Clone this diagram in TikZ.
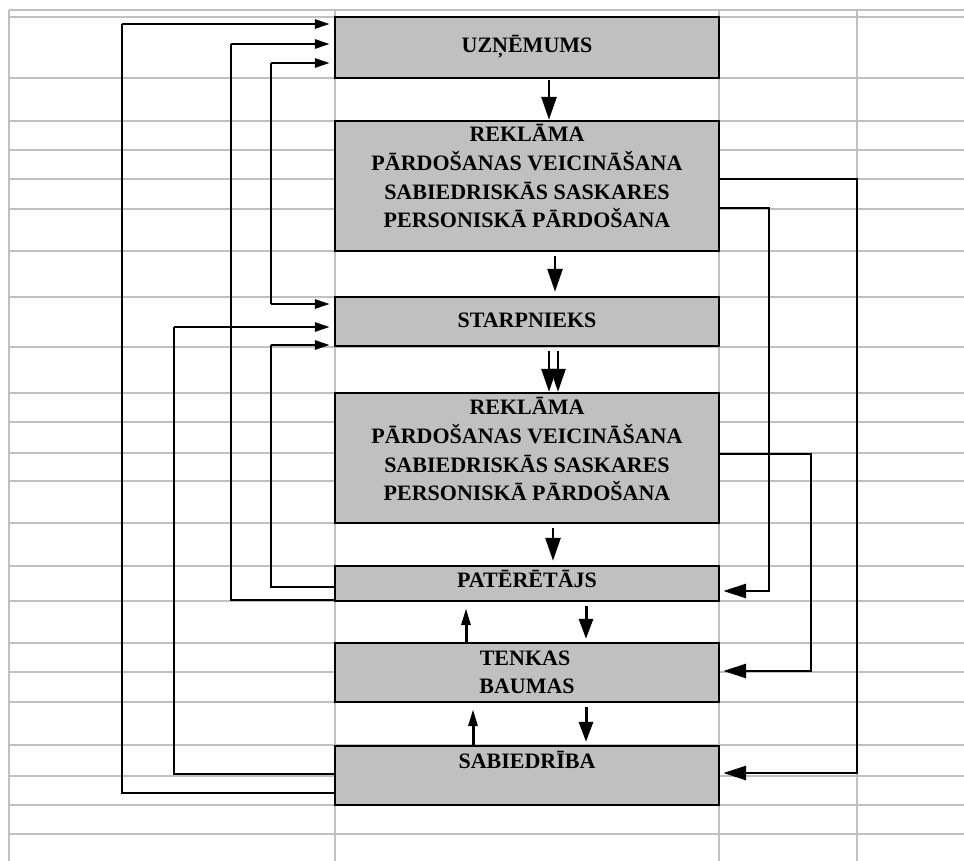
\documentclass[tikz,border=0pt]{standalone}
\usepackage{fontspec}
\setmainfont{Liberation Serif}
\usetikzlibrary{arrows.meta}
\definecolor{boxgray}{RGB}{192,192,192}
\definecolor{gridgray}{RGB}{192,192,192}
\begin{document}
\begin{tikzpicture}[x=1pt,y=-1pt,
  gridline/.style={draw=gridgray,line width=1.8pt},
  box/.style={draw=black,fill=boxgray,line width=2.4pt,inner sep=0pt,minimum width=384pt},
  lbl/.style={anchor=base,font=\bfseries\fontsize{22}{26}\selectfont,inner sep=0pt},
  thinl/.style={line width=1.6pt},
  thk/.style={line width=2.8pt},
  harr/.style={thk,-{Triangle[length=15pt,width=9pt]},shorten >=4pt},
  rarr/.style={thk,-{Triangle[length=23pt,width=14pt]},shorten >=3pt},
  darr/.style={thk,-{Triangle[length=23pt,width=15pt]}},
  uarr/.style={line width=3pt,-{Triangle[length=17pt,width=9pt]}},
  sdarr/.style={line width=3pt,-{Triangle[length=20pt,width=14pt]}},
]
\useasboundingbox (0,0) rectangle (964,861);
\fill[white] (0,0) rectangle (964,861);
% grid
\foreach \y in {10,17,78,121,150,179,209,251,297,347,393,422,453,481,523,566,601,643,672,702,745,776,805,834}
  \draw[gridline] (9,\y) -- (964,\y);
\foreach \x in {9,335,719,857}
  \draw[gridline] (\x,10) -- (\x,861);
% boxes
\node[box,minimum height=61pt] (u) at (527,47.5) {};
\node[box,minimum height=130pt] (r1) at (527,186) {};
\node[box,minimum height=49pt] (st) at (527,321.5) {};
\node[box,minimum height=130pt] (r2) at (527,458) {};
\node[box,minimum height=35pt] (pat) at (527,583.5) {};
\node[box,minimum height=59pt] (ten) at (527,672.5) {};
\node[box,minimum height=59pt] (sab) at (527,775.5) {};
% texts
\node[lbl] (tu) at (527,53) {UZŅĒMUMS};
\node[lbl] (tr1a) at (527,142) {REKLĀMA};
\node[lbl] (tr1b) at (527,171) {PĀRDOŠANAS VEICINĀŠANA};
\node[lbl] (tr1c) at (527,200) {SABIEDRISKĀS SASKARES};
\node[lbl] (tr1d) at (527,228) {PERSONISKĀ PĀRDOŠANA};
\node[lbl] (tst) at (527,327) {STARPNIEKS};
\node[lbl] (tr2a) at (527,414) {REKLĀMA};
\node[lbl] (tr2b) at (527,443) {PĀRDOŠANAS VEICINĀŠANA};
\node[lbl] (tr2c) at (527,472) {SABIEDRISKĀS SASKARES};
\node[lbl] (tr2d) at (527,500) {PERSONISKĀ PĀRDOŠANA};
\node[lbl] (tpat) at (527,587) {PATĒRĒTĀJS};
\node[lbl] (tten1) at (525,665) {TENKAS};
\node[lbl] (tten2) at (527,693) {BAUMAS};
\node[lbl] (tsab) at (527,768) {SABIEDRĪBA};
% vertical arrows between boxes
\draw[darr,shorten <=1pt] (u.south -| 549,0) -- (r1.north -| 549,0);
\draw[darr,shorten <=4pt,shorten >=4pt] (r1.south -| 555,0) -- (st.north -| 555,0);
\draw[darr,shorten <=4pt] (st.south -| 549,0) -- (r2.north -| 549,0);
\draw[darr,shorten <=4pt] (st.south -| 558,0) -- (r2.north -| 558,0);
\draw[darr,shorten <=4pt,shorten >=4pt] (r2.south -| 553,0) -- (pat.north -| 553,0);
\draw[uarr,shorten >=6pt] (ten.north -| 466,0) -- (pat.south -| 466,0);
\draw[sdarr,shorten <=4pt,shorten >=3pt] (pat.south -| 586,0) -- (ten.north -| 586,0);
\draw[uarr,shorten >=6pt] (sab.north -| 473,0) -- (ten.south -| 473,0);
\draw[sdarr,shorten <=4pt,shorten >=3pt] (ten.south -| 586,0) -- (sab.north -| 586,0);
% right side connectors
\draw[rarr] (r1.east |- 0,179) -| (857,773) -- (sab.east |- 0,773);
\draw[rarr] (r1.east |- 0,208) -| (769,591) -- (pat.east |- 0,591);
\draw[rarr] (r2.east |- 0,454) -| (811,671) -- (ten.east |- 0,671);
% left side connectors
\draw[thinl] (sab.west |- 0,793) -| (122,24);
\draw[harr] (122,24) -- (u.west |- 0,24);
\draw[thinl] (pat.west |- 0,600) -| (231,44);
\draw[harr] (231,44) -- (u.west |- 0,44);
\draw[thinl] (271,63) -- (271,304);
\draw[harr] (271,63) -- (u.west |- 0,63);
\draw[harr] (271,304) -- (st.west |- 0,304);
\draw[thinl] (sab.west |- 0,774) -| (174,327);
\draw[harr] (174,327) -- (st.west |- 0,327);
\draw[thinl] (pat.west |- 0,587) -| (271,345);
\draw[harr] (271,345) -- (st.west |- 0,345);
\end{tikzpicture}
\end{document}
